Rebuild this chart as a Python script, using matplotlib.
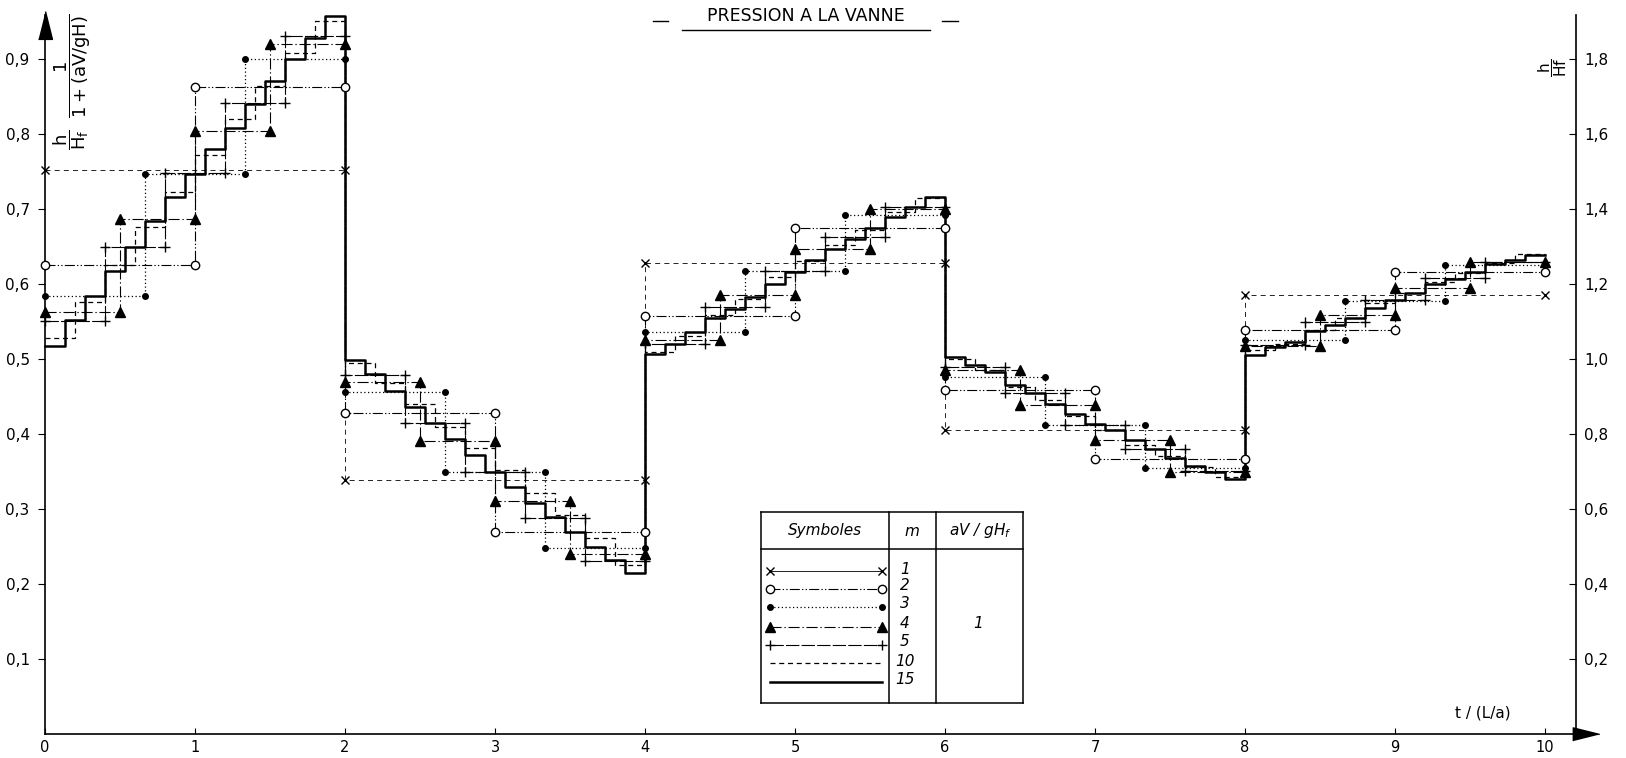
import numpy as np
import matplotlib.pyplot as plt
from matplotlib.lines import Line2D

plt.rcParams['font.family'] = ['DejaVu Sans']
plt.rcParams['mathtext.fontset'] = 'dejavusans'

# h/Hf values, one per step; step width is 2/m on t in [0, 10]
m1 = [0.752, 0.339, 0.628, 0.406, 0.586]
m2 = [0.626, 0.863, 0.429, 0.270, 0.558, 0.675, 0.459, 0.367, 0.539, 0.616]
m3 = [0.584, 0.747, 0.901, 0.457, 0.350, 0.249, 0.537, 0.618, 0.692,
      0.477, 0.413, 0.355, 0.526, 0.578, 0.626]
m4 = [0.563, 0.687, 0.805, 0.920, 0.470, 0.391, 0.311, 0.240,
      0.526, 0.586, 0.647, 0.701, 0.486, 0.439, 0.392, 0.350,
      0.518, 0.559, 0.595, 0.630]
m5 = [0.551, 0.650, 0.748, 0.842, 0.931, 0.479, 0.415, 0.350, 0.289, 0.231,
      0.521, 0.570, 0.618, 0.663, 0.703, 0.490, 0.455, 0.413, 0.381, 0.351,
      0.519, 0.550, 0.579, 0.608, 0.630]
m10 = [0.528, 0.577, 0.626, 0.676, 0.723, 0.772, 0.821, 0.864, 0.909, 0.951,
       0.495, 0.468, 0.440, 0.410, 0.382, 0.352, 0.322, 0.292, 0.262, 0.226,
       0.510, 0.531, 0.559, 0.581, 0.610, 0.631, 0.652, 0.673, 0.697, 0.715,
       0.501, 0.486, 0.463, 0.446, 0.424, 0.406, 0.386, 0.371, 0.357, 0.343,
       0.512, 0.520, 0.539, 0.555, 0.575, 0.589, 0.603, 0.615, 0.628, 0.640]
m15 = [0.518, 0.552, 0.584, 0.618, 0.650, 0.685, 0.716, 0.747, 0.780, 0.809,
       0.841, 0.871, 0.901, 0.929, 0.958,
       0.499, 0.480, 0.458, 0.436, 0.415, 0.394, 0.373, 0.350, 0.330, 0.309,
       0.290, 0.270, 0.250, 0.232, 0.215,
       0.507, 0.521, 0.536, 0.555, 0.567, 0.583, 0.601, 0.617, 0.632, 0.647,
       0.661, 0.675, 0.690, 0.703, 0.717,
       0.503, 0.492, 0.483, 0.466, 0.455, 0.440, 0.427, 0.414, 0.406, 0.392,
       0.381, 0.369, 0.358, 0.350, 0.340,
       0.506, 0.517, 0.523, 0.538, 0.546, 0.555, 0.568, 0.579, 0.589, 0.600,
       0.607, 0.617, 0.627, 0.632, 0.639]

m_labels = ["1", "2", "3", "4", "5", "10", "15"]
x_ticks = list(range(11))
left_ticks = [0.1, 0.2, 0.3, 0.4, 0.5, 0.6, 0.7, 0.8, 0.9]
right_ticks = [0.2, 0.4, 0.6, 0.8, 1.0, 1.2, 1.4, 1.6, 1.8]

W, H = 1626, 758
fig = plt.figure(figsize=(W / 100, H / 100), dpi=100)


def fx(x):
    return x / W


def fy(y):
    return 1 - y / H


ax = fig.add_axes([fx(45), fy(734.3), (1595 - 45) / W, (734.3 - 15) / H])
xmax = (1595 - 45) / 150.0
ymax = (734.3 - 15) / 750.0
ax.set_xlim(0, xmax)
ax.set_ylim(0, ymax)

styles = [
    # values, m, linestyle, lw, marker, ms, face
    (m1, 1, (0, (6, 5)), 0.6, 'x', 6, 'black'),
    (m2, 2, (0, (9, 2, 1.2, 2, 1.2, 2)), 0.8, 'o', 6, 'white'),
    (m3, 3, (0, (1, 2)), 0.9, 'o', 4, 'black'),
    (m4, 4, (0, (10, 2.5, 1.2, 2.5)), 0.8, '^', 6.5, 'black'),
    (m5, 5, (0, (12, 2)), 0.8, '+', 7, 'black'),
    (m10, 10, (0, (4, 3)), 0.9, None, 0, 'black'),
    (m15, 15, '-', 1.8, None, 0, 'black'),
]

for vals, m, ls, lw, mk, ms, face in styles:
    v = np.array(vals)
    edges = np.arange(len(v) + 1) * 2.0 / m
    ax.step(edges, np.append(v, v[-1]), where='post', color='black',
            linestyle=ls, lw=lw, clip_on=False)
    if mk is not None:
        ax.plot(np.concatenate([edges[:-1], edges[1:]]), np.concatenate([v, v]),
                linestyle='none', marker=mk, ms=ms, mfc=face, mec='black',
                mew=1.0, clip_on=False, zorder=3)

for s in ['top', 'right']:
    ax.spines[s].set_visible(False)
ax.spines['left'].set_linewidth(1.2)
ax.spines['bottom'].set_linewidth(1.2)

ax.set_xticks(x_ticks)
ax.set_xticklabels([str(t) for t in x_ticks], fontsize=10.5)
ax.tick_params(axis='x', direction='in', length=4, pad=4)
ax.set_yticks(left_ticks)
ax.set_yticklabels([("%.1f" % t).replace('.', ',') for t in left_ticks], fontsize=11)
ax.tick_params(axis='y', direction='out', length=5, pad=6)

# arrows on the axes
ax.plot([0], [ymax - 0.013], marker=[(-0.5, -1), (0.5, -1), (0, 1)], ms=20,
        color='black', clip_on=False)
ax.plot([xmax - 0.06], [0], marker=[(-1, -0.5), (-1, 0.5), (1, 0)], ms=19,
        color='black', clip_on=False)

ax2 = ax.twinx()
ax2.set_ylim(0, 2 * ymax)
for s in ['top', 'left', 'bottom']:
    ax2.spines[s].set_visible(False)
ax2.spines['right'].set_position(('axes', (1575.5 - 45) / (1595 - 45)))
ax2.spines['right'].set_linewidth(1.2)
ax2.set_yticks(right_ticks)
ax2.set_yticklabels([("%.1f" % t).replace('.', ',') for t in right_ticks], fontsize=11)
ax2.tick_params(axis='y', direction='in', length=5, pad=6)

ax.text(1483 / 150.0 - 45 / 150.0, (734.3 - 713) / 750.0, "t / (L/a)",
        fontsize=11, ha='center', va='center')

fig.text(fx(72), fy(82), r'$\dfrac{\mathrm{h}}{\mathrm{H_f}}\ \ \dfrac{1}{1+(\mathrm{aV/gH})}$',
         rotation=90, ha='center', va='center', fontsize=13)
fig.text(fx(1553), fy(67), r'$\dfrac{\mathrm{h}}{\mathrm{Hf}}$',
         rotation=90, ha='center', va='center', fontsize=11)

# title
fig.text(fx(806), fy(16), "PRESSION A LA VANNE", ha='center', va='center',
         fontsize=12.5)
fig.add_artist(Line2D([fx(682), fx(930)], [fy(29.5), fy(29.5)], color='black',
                      lw=1.0, transform=fig.transFigure))
for x1, x2 in [(653, 668), (942, 958)]:
    fig.add_artist(Line2D([fx(x1), fx(x2)], [fy(21), fy(21)], color='black',
                          lw=1.0, transform=fig.transFigure))

# legend table
tl, tr, tt, tb = 761, 1023, 512, 703
c1, c2, hd = 889, 936, 549
box = [((tl, tr), (tt, tt)), ((tl, tr), (tb, tb)), ((tl, tl), (tt, tb)),
       ((tr, tr), (tt, tb)), ((c1, c1), (tt, tb)), ((c2, c2), (tt, tb)),
       ((tl, tr), (hd, hd))]
for xs, ys in box:
    fig.add_artist(Line2D([fx(x) for x in xs], [fy(y) for y in ys], color='black',
                          lw=1.1, transform=fig.transFigure))
fig.text(fx(825), fy(531), "Symboles", style='italic', ha='center', va='center', fontsize=11)
fig.text(fx(912), fy(531), "m", style='italic', ha='center', va='center', fontsize=11)
fig.text(fx(980), fy(531), r"aV / gH$_f$", style='italic', ha='center', va='center',
         fontsize=11)
fig.text(fx(978), fy(624), "1", style='italic', ha='center', va='center', fontsize=11)

row_y = [571, 589, 607, 627, 645, 663, 682]
lab_y = [570, 586, 604, 623, 642, 661, 679]
for i, (vals, m, ls, lw, mk, ms, face) in enumerate(styles):
    ls_leg = '-' if m == 1 else ls
    fig.add_artist(Line2D([fx(770), fx(882)], [fy(row_y[i]), fy(row_y[i])],
                          color='black', linestyle=ls_leg, lw=lw,
                          marker=mk if mk else None, ms=ms, mfc=face, mec='black',
                          transform=fig.transFigure))
    fig.text(fx(905), fy(lab_y[i]), m_labels[i], style='italic', ha='center',
             va='center', fontsize=11)

fig.savefig("out.png", dpi=100)
